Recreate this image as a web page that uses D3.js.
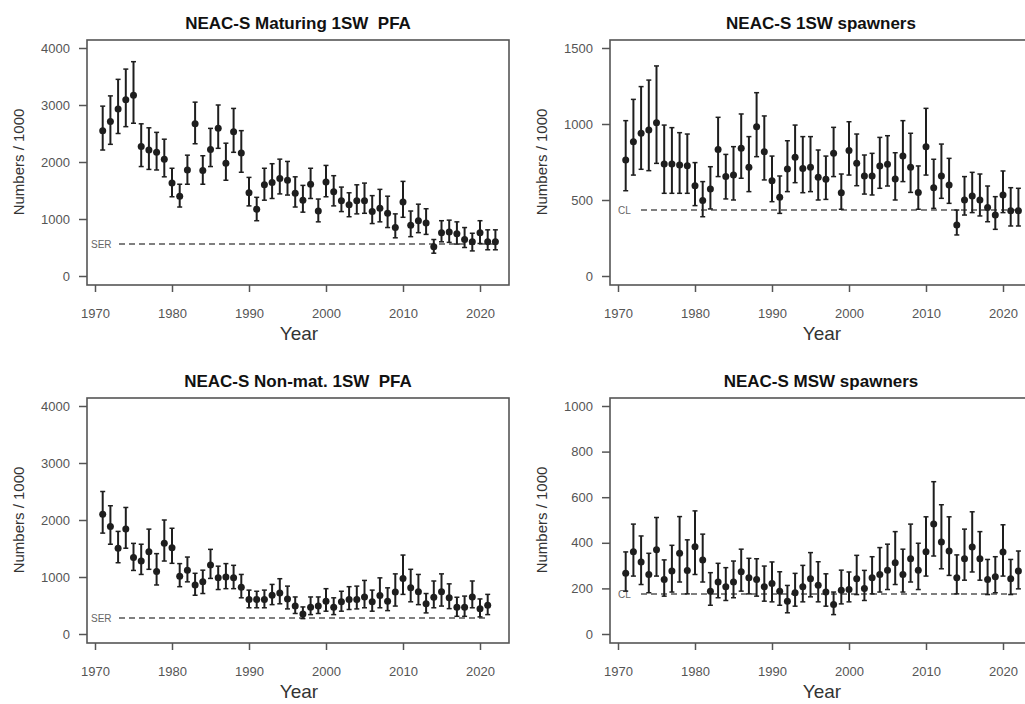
<!DOCTYPE html>
<html>
<head>
<meta charset="utf-8">
<script src="https://cdn.jsdelivr.net/npm/d3@7"></script>
<style>
body{margin:0;background:#fff;}
text{font-family:"Liberation Sans",Arial,sans-serif;}
</style>
</head>
<body>
<div id="chart"></div>
<script>
var w=1025, h=704;

var years=[1971,1972,1973,1974,1975,1976,1977,1978,1979,1980,1981,1982,1983,1984,1985,1986,1987,1988,1989,1990,
  1991,1992,1993,1994,1995,1996,1997,1998,1999,2000,2001,2002,2003,2004,2005,2006,2007,2008,2009,2010,
  2011,2012,2013,2014,2015,2016,2017,2018,2019,2020,2021,2022];
var yearTicks=[1970,1980,1990,2000,2010,2020];

// NEAC-S Maturing 1SW PFA
var matMid=[2550,2710,2930,3090,3170,2270,2210,2170,2050,1630,1400,1860,2670,1850,2220,2590,1980,2530,2160,1460,
  1170,1600,1640,1710,1680,1450,1330,1610,1140,1650,1480,1320,1250,1320,1320,1130,1190,1100,850,1300,
  890,970,930,515,760,770,740,640,600,760,600,600];
var matHi=[2980,3160,3450,3630,3760,2670,2600,2520,2400,1890,1610,2120,3050,2110,2590,3000,2330,2940,2550,1730,
  1380,1890,1970,2050,2010,1740,1590,1890,1350,1940,1760,1560,1460,1600,1630,1410,1520,1400,1090,1660,
  1140,1260,1180,640,970,980,950,850,750,970,810,810];
var matLo=[2210,2310,2500,2620,2680,1920,1870,1860,1740,1390,1210,1610,2320,1610,1920,2240,1680,2170,1820,1230,
  970,1330,1360,1440,1420,1210,1120,1360,950,1390,1230,1130,1040,1090,1100,920,950,850,670,1030,
  690,760,730,400,600,590,560,500,440,570,460,460];

// NEAC-S 1SW spawners
var sp1Mid=[763,884,939,961,1009,737,737,730,726,594,496,572,833,654,664,840,715,982,818,627,
  518,704,781,708,715,649,636,807,548,825,741,658,658,724,735,638,789,715,550,851,
  581,658,599,336,500,526,500,450,401,533,430,430];
var sp1Hi=[1022,1162,1246,1289,1382,993,976,943,934,746,621,719,1044,800,851,1066,917,1206,1053,789,
  658,890,993,917,917,829,789,978,671,1015,934,796,807,912,923,811,1022,939,724,1103,
  768,868,774,434,654,682,671,592,522,691,581,577];
var sp1Lo=[561,664,702,693,741,544,544,544,544,463,390,441,654,507,500,643,555,785,632,489,
  412,555,614,548,555,500,504,654,439,664,594,539,533,577,592,500,621,550,439,664,
  445,511,478,270,401,417,395,357,307,417,329,329];

// NEAC-S Non-mat. 1SW PFA (to 2021)
var nmMid=[2100,1885,1505,1840,1340,1280,1445,1095,1590,1515,1015,1120,860,915,1210,985,1000,985,820,605,
  605,605,680,720,615,490,350,470,490,575,470,565,605,605,650,565,675,575,735,975,
  810,740,530,645,740,635,470,470,650,445,505];
var nmHi=[2500,2250,1800,2220,1590,1575,1840,1410,2000,1855,1235,1350,1065,1120,1485,1190,1235,1205,1045,770,
  750,770,870,970,840,650,475,650,650,795,635,750,830,840,940,770,985,810,1055,1385,
  1135,1045,710,930,1055,880,645,665,930,615,695];
var nmLo=[1770,1575,1250,1505,1115,1045,1135,860,1280,1240,830,915,680,710,975,780,795,795,635,460,
  460,460,515,530,440,360,270,340,360,400,340,400,430,440,460,400,460,410,490,695,
  565,515,370,460,490,445,310,310,460,300,340];

// NEAC-S MSW spawners
var mswMid=[266,361,316,261,369,239,276,354,279,383,325,188,228,207,228,273,247,239,207,222,
  188,144,181,207,242,214,184,129,192,195,242,200,247,261,280,313,261,330,280,361,
  482,404,364,247,330,382,330,239,251,360,242,276];
var mswHi=[360,482,430,354,511,325,389,515,413,540,438,269,310,291,320,372,332,330,298,316,
  273,213,266,301,357,317,264,184,280,272,345,279,339,379,394,449,372,482,398,514,
  668,567,514,347,460,536,449,327,339,479,327,364];
var mswLo=[188,254,217,181,254,166,184,228,176,261,228,126,159,147,159,188,176,166,144,141,
  126,93,122,141,163,141,122,85,132,141,173,147,176,184,195,217,184,228,195,254,
  342,286,257,176,236,272,236,173,181,254,173,198];

var panels=[
  {title:"NEAC-S Maturing 1SW  PFA", mid:matMid, hi:matHi, lo:matLo, ymax:4000, ticks:[0,1000,2000,3000,4000], ref:560, refLabel:"SER", dx:0, dy:0},
  {title:"NEAC-S 1SW spawners", mid:sp1Mid, hi:sp1Hi, lo:sp1Lo, ymax:1500, ticks:[0,500,1000,1500], ref:435, refLabel:"CL", dx:523, dy:0},
  {title:"NEAC-S Non-mat. 1SW  PFA", mid:nmMid, hi:nmHi, lo:nmLo, ymax:4000, ticks:[0,1000,2000,3000,4000], ref:280, refLabel:"SER", dx:0, dy:358},
  {title:"NEAC-S MSW spawners", mid:mswMid, hi:mswHi, lo:mswLo, ymax:1000, ticks:[0,200,400,600,800,1000], ref:175, refLabel:"CL", dx:523, dy:358}
];

var svg=d3.select("#chart")
  .append("svg")
  .attr("width",w)
  .attr("height",h);

var ink="#1e1e1e";

panels.forEach(function(p){
  var g=svg.append("g").attr("transform","translate("+p.dx+","+p.dy+")");
  var x=d3.scaleLinear().domain([1970,2020]).range([95,480]);
  var y=d3.scaleLinear().domain([0,p.ymax]).range([276,48]);
  var pts=years.slice(0,p.mid.length).map(function(yr,i){
    return {yr:yr, mid:p.mid[i], hi:p.hi[i], lo:p.lo[i]};
  });

  // reference line
  var lastX=x(pts[pts.length-1].yr);
  g.append("line")
    .attr("x1",p.refLabel=="SER"?119:118).attr("x2",lastX)
    .attr("y1",y(p.ref)).attr("y2",y(p.ref))
    .attr("stroke","#555").attr("stroke-width",1.5)
    .attr("stroke-dasharray","6,4");
  g.append("text")
    .attr("x",p.refLabel=="SER"?91:95).attr("y",y(p.ref)+4)
    .attr("font-size",10).attr("fill","#666")
    .text(p.refLabel);

  // error bars
  var bars=g.selectAll("g.bar").data(pts).enter().append("g").attr("class","bar");
  bars.append("line")
    .attr("x1",function(d){return x(d.yr);}).attr("x2",function(d){return x(d.yr);})
    .attr("y1",function(d){return y(d.hi);}).attr("y2",function(d){return y(d.lo);})
    .attr("stroke",ink).attr("stroke-width",2);
  bars.append("line")
    .attr("x1",function(d){return x(d.yr)-2.5;}).attr("x2",function(d){return x(d.yr)+2.5;})
    .attr("y1",function(d){return y(d.hi);}).attr("y2",function(d){return y(d.hi);})
    .attr("stroke",ink).attr("stroke-width",1.5);
  bars.append("line")
    .attr("x1",function(d){return x(d.yr)-2.5;}).attr("x2",function(d){return x(d.yr)+2.5;})
    .attr("y1",function(d){return y(d.lo);}).attr("y2",function(d){return y(d.lo);})
    .attr("stroke",ink).attr("stroke-width",1.5);
  bars.append("circle")
    .attr("cx",function(d){return x(d.yr);})
    .attr("cy",function(d){return y(d.mid);})
    .attr("r",3.5)
    .attr("fill",ink);

  // box
  g.append("rect")
    .attr("x",87).attr("y",40).attr("width",422).attr("height",245)
    .attr("fill","none").attr("stroke","#555").attr("stroke-width",1.6);

  // axes
  var ya=g.append("g").attr("transform","translate(87,0)")
    .call(d3.axisLeft(y).tickValues(p.ticks).tickSize(8).tickPadding(9).tickFormat(d3.format("d")));
  var xa=g.append("g").attr("transform","translate(0,285)")
    .call(d3.axisBottom(x).tickValues(yearTicks).tickSize(7).tickPadding(17).tickFormat(d3.format("d")));
  [ya,xa].forEach(function(a){
    a.select(".domain").remove();
    a.selectAll(".tick line").attr("stroke","#555").attr("stroke-width",1.5);
    a.selectAll(".tick text").attr("fill","#555").attr("font-size",13)
      .style("font-family","'Liberation Sans',Arial,sans-serif");
  });

  // titles
  g.append("text")
    .attr("x",298).attr("y",29)
    .attr("text-anchor","middle")
    .attr("font-size",17).attr("font-weight","bold").attr("fill","#111")
    .style("white-space","pre")
    .text(p.title);
  g.append("text")
    .attr("x",299).attr("y",340)
    .attr("text-anchor","middle")
    .attr("font-size",19).attr("fill","#333")
    .text("Year");
  g.append("text")
    .attr("transform","translate(24,162) rotate(-90)")
    .attr("text-anchor","middle")
    .attr("font-size",15).attr("fill","#333")
    .text("Numbers / 1000");
});
</script>
</body>
</html>
